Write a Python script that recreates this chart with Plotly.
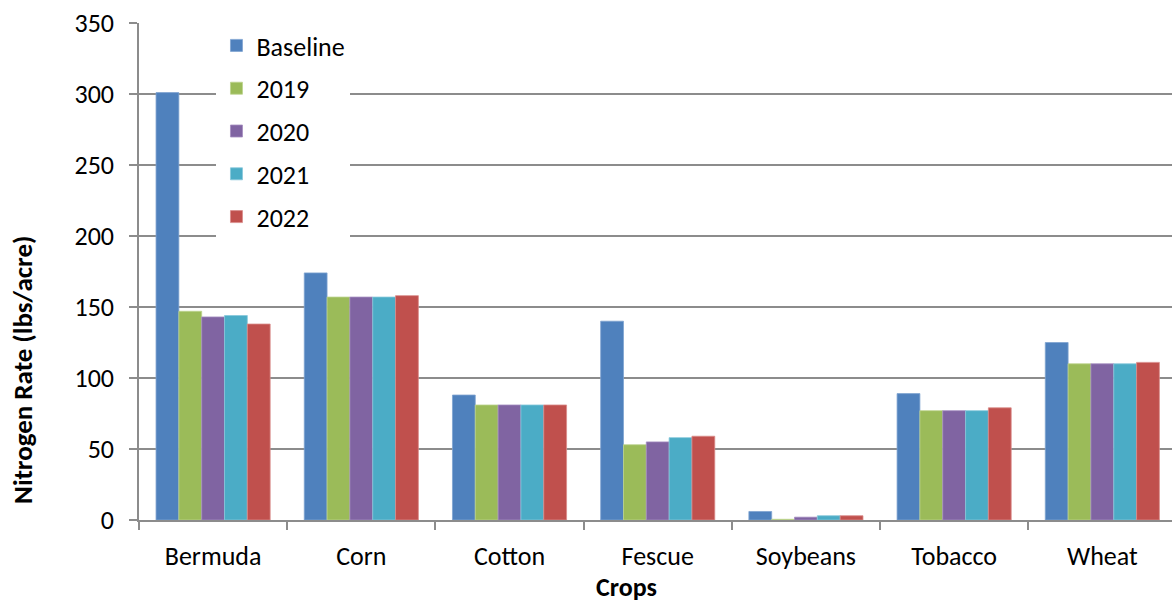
import plotly.graph_objects as go

crops = ["Bermuda", "Corn", "Cotton", "Fescue", "Soybeans", "Tobacco", "Wheat"]

baseline = [301, 174, 88, 140, 6, 89, 125]
y2019 = [147, 157, 81, 53, 0.5, 77, 110]
y2020 = [143, 157, 81, 55, 2, 77, 110]
y2021 = [144, 157, 81, 58, 3, 77, 110]
y2022 = [138, 158, 81, 59, 3, 79, 111]

series_names = ["Baseline", "2019", "2020", "2021", "2022"]
series_values = [baseline, y2019, y2020, y2021, y2022]
fill_colors = ["#4F81BD", "#9BBB59", "#8064A2", "#4BACC6", "#C0504D"]
edge_colors = ["#7FA3D1", "#BDD38E", "#A48EC0", "#86C8DA", "#D98C8A"]

FONT = "Carlito, Calibri, Lato, sans-serif"
FS = 26
GRID = "#8C8C8C"

fig = go.Figure()
for name, vals, fc, ec in zip(series_names, series_values, fill_colors, edge_colors):
    fig.add_trace(go.Bar(
        x=crops, y=vals, name=name, legendgroup=name,
        marker=dict(color=fc, line=dict(color=ec, width=0.8)),
    ))

fig.update_layout(
    width=1172, height=607,
    margin=dict(l=139, r=0, t=23, b=87),
    paper_bgcolor="white", plot_bgcolor="white",
    barmode="group", bargap=0.23, bargroupgap=0,
    font=dict(family=FONT, size=FS, color="black"),
    showlegend=True,
    legend=dict(
        x=0.075, y=1.002, xanchor="left", yanchor="top",
        bgcolor="white", borderwidth=0,
        font=dict(family=FONT, size=FS, color="black"),
        tracegroupgap=6, itemwidth=30,
    ),
)

fig.update_xaxes(
    range=[-0.5, 6.47],
    showline=True, linecolor=GRID, linewidth=1.5,
    ticks="outside", tickson="boundaries", ticklen=8, tickcolor=GRID, tickwidth=1.5,
    showgrid=False, automargin=False,
    tickfont=dict(family=FONT, size=FS),
    ticklabelstandoff=12,
)

fig.update_yaxes(
    range=[0, 350], dtick=50,
    showline=True, linecolor=GRID, linewidth=1.5,
    ticks="outside", ticklen=8, tickcolor=GRID, tickwidth=1.5,
    showgrid=True, gridcolor=GRID, gridwidth=1.5,
    zeroline=False, automargin=False,
    tickfont=dict(family=FONT, size=FS),
    ticklabelstandoff=10,
)

# Axis titles, placed as annotations
fig.add_annotation(
    text="<b>Crops</b>", xref="paper", yref="paper",
    x=0.472, y=-0.135, xanchor="center", yanchor="middle",
    showarrow=False, font=dict(family=FONT, size=26, color="black"),
)
fig.add_annotation(
    text="<b>Nitrogen Rate (lbs/acre)</b>", xref="paper", yref="paper",
    x=0, y=0.302, xanchor="center", yanchor="middle", xshift=-116,
    textangle=-90, showarrow=False, font=dict(family=FONT, size=27, color="black"),
)

fig.write_html("out.html")
